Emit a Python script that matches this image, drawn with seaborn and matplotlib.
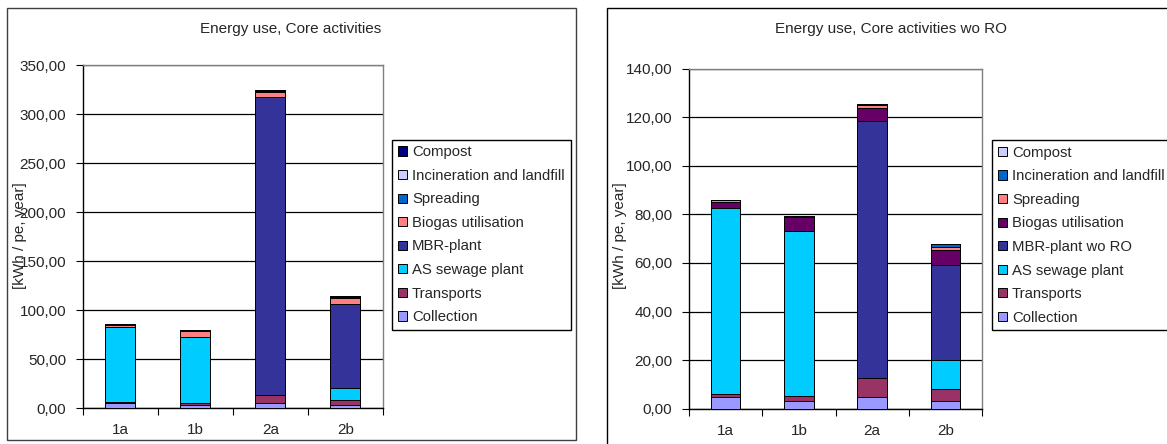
import matplotlib
matplotlib.use("Agg")
import matplotlib.pyplot as plt
import seaborn as sns
import numpy as np
from matplotlib.patches import Patch, Rectangle
from matplotlib.ticker import FuncFormatter, FixedLocator

# data, kWh / pe, year
categories = ["1a", "1b", "2a", "2b"]
collection = [4.7, 3.0, 4.7, 3.0]
transports = [1.2, 2.2, 8.1, 5.1]
as_plant = [76.9, 67.8, 0.0, 11.9]
mbr_plant = [0.0, 0.0, 304.5, 86.0]
mbr_wo_ro = [0.0, 0.0, 105.5, 39.3]
biogas = [2.4, 5.9, 5.5, 6.2]
spreading = [0.8, 0.6, 1.3, 1.1]
incineration = [0.1, 0.0, 0.3, 1.2]
compost = [0.0, 0.0, 0.2, 0.2]

labels_left = ["Collection", "Transports", "AS sewage plant", "MBR-plant",
               "Biogas utilisation", "Spreading", "Incineration and landfill", "Compost"]
labels_right = ["Collection", "Transports", "AS sewage plant", "MBR-plant wo RO",
                "Biogas utilisation", "Spreading", "Incineration and landfill", "Compost"]
colors_left = ["#9999FF", "#993366", "#00CCFF", "#333399",
               "#FF8080", "#0066CC", "#CCCCFF", "#000080"]
colors_right = ["#9999FF", "#993366", "#00CCFF", "#333399",
                "#660066", "#FF8080", "#0066CC", "#CCCCFF"]

sns.set_style("white")
plt.rcParams["font.family"] = ["Liberation Sans", "DejaVu Sans"]

W, H = 1167, 444
fig = plt.figure(figsize=(W / 100, H / 100), dpi=100)


def fx(px):
    return px / W


def fy(py):
    return 1 - py / H


def comma_fmt(v, pos):
    return f"{v:.2f}".replace(".", ",")


def make_panel(rect, series, colors, labels, ymax, ystep, title, title_x,
               ylabel_x, legend_xy):
    ax = fig.add_axes(rect)
    stack = np.cumsum(np.array(series), axis=0)
    # overlay the cumulative totals, tallest first
    for i in range(len(series) - 1, -1, -1):
        sns.barplot(x=categories, y=stack[i], color=colors[i], saturation=1,
                    width=0.4, edgecolor="black", linewidth=0.7,
                    errorbar=None, ax=ax, zorder=3)
    ax.set_ylim(0, ymax)
    ax.set_xlim(-0.5, len(categories) - 0.5)
    ax.yaxis.set_major_locator(FixedLocator(np.arange(0, ymax + 0.1, ystep)))
    ax.yaxis.set_major_formatter(FuncFormatter(comma_fmt))
    ax.xaxis.set_minor_locator(FixedLocator(np.arange(-0.5, len(categories), 1)))
    ax.grid(axis="y", color="black", linewidth=0.9, zorder=0)
    ax.set_axisbelow(True)
    ax.tick_params(axis="y", which="major", direction="out", length=5,
                   width=0.8, color="black", labelsize=11, pad=7, left=True)
    ax.tick_params(axis="x", which="major", length=0, labelsize=11, pad=11)
    ax.tick_params(axis="x", which="minor", direction="out", length=5,
                   width=0.8, color="black", bottom=True)
    for side in ["left", "bottom"]:
        ax.spines[side].set_color("black")
        ax.spines[side].set_linewidth(1.0)
    for side in ["top", "right"]:
        ax.spines[side].set_color("#808080")
        ax.spines[side].set_linewidth(1.0)
    ax.set_xlabel("")
    ax.set_ylabel("")
    fig.text(fx(title_x), fy(29.5), title, ha="center", va="center", fontsize=11)
    fig.text(fx(ylabel_x), fy(236), "[kWh / pe, year]", rotation=90,
             ha="center", va="center", fontsize=11)
    handles = [Patch(facecolor=colors[i], edgecolor="black", linewidth=0.7,
                     label=labels[i]) for i in range(len(labels) - 1, -1, -1)]
    fig.legend(handles=handles, loc="upper left",
               bbox_to_anchor=(fx(legend_xy[0]), fy(legend_xy[1])),
               frameon=True, fancybox=False, edgecolor="black", framealpha=1,
               fontsize=10.7, handlelength=0.6, handleheight=0.6,
               handletextpad=0.35, labelspacing=0.64, borderpad=0.4,
               borderaxespad=0)
    return ax


# chart frames
fig.patches.append(Rectangle((fx(7), fy(440)), fx(576) - fx(7), fy(8) - fy(440),
                             transform=fig.transFigure, fill=False,
                             edgecolor="#404040", linewidth=1.0))
fig.patches.append(Rectangle((fx(607), fy(460)), fx(1190) - fx(607), fy(8) - fy(460),
                             transform=fig.transFigure, fill=False,
                             edgecolor="black", linewidth=1.0))

left_series = [collection, transports, as_plant, mbr_plant, biogas,
               spreading, incineration, compost]
right_series = [collection, transports, as_plant, mbr_wo_ro, biogas,
                spreading, incineration, compost]

make_panel([fx(83), fy(408), fx(382.7) - fx(83), fy(65.3) - fy(408)],
           left_series, colors_left, labels_left, 350, 50,
           "Energy use, Core activities", 291, 20, (392, 139.5))
make_panel([fx(689), fy(408.7), fx(982) - fx(689), fy(68.7) - fy(408.7)],
           right_series, colors_right, labels_right, 140, 20,
           "Energy use, Core activities wo RO", 891, 620, (992, 140))

fig.savefig("out.png", dpi=100)
